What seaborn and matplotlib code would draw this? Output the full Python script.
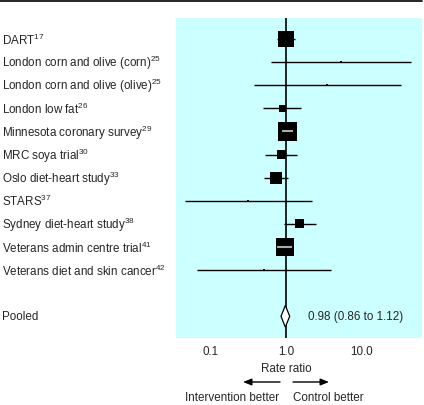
import numpy as np
import pandas as pd
import matplotlib.pyplot as plt
from matplotlib.lines import Line2D
import seaborn as sns

# study data
studies = ["DART", "London corn and olive (corn)", "London corn and olive (olive)",
           "London low fat", "Minnesota coronary survey", "MRC soya trial",
           "Oslo diet-heart study", "STARS", "Sydney diet-heart study",
           "Veterans admin centre trial", "Veterans diet and skin cancer"]
refs = ["17", "25", "25", "26", "29", "30", "33", "37", "38", "41", "42"]
rate_ratio = [1.00, 5.3, 3.45, 0.89, 1.04, 0.87, 0.74, 0.32, 1.53, 0.97, 0.51]
ci_low = [0.75, 0.64, 0.38, 0.50, 0.89, 0.53, 0.52, 0.047, 0.94, 0.75, 0.068]
ci_high = [1.31, 45.0, 33.0, 1.56, 1.24, 1.41, 1.05, 2.2, 2.46, 1.19, 3.9]
weights = [19.5, 0.3, 0.3, 3.7, 27.5, 6.2, 11.0, 0.3, 6.2, 24.7, 0.3]

pooled_rr = 0.98
pooled_low = 0.86
pooled_high = 1.12

tick_vals = [0.1, 1.0, 10.0]
tick_labels = ["0.1", "1.0", "10.0"]

sns.set_style("white")
plt.rcParams["font.family"] = ["Liberation Sans", "DejaVu Sans"]
plt.rcParams["mathtext.default"] = "regular"
FS = 8.4

W, H = 424, 406
fig = plt.figure(figsize=(W / 100, H / 100), dpi=100)


def fx(px):
    return px / W


def fy(py):
    return 1 - py / H


# panel axes (pixel box 176..422 x 19..339)
ax = fig.add_axes([fx(176), fy(339), fx(422) - fx(176), fy(19) - fy(339)])
ax.set_facecolor("#ccffff")
for s in ax.spines.values():
    s.set_visible(False)

df = pd.DataFrame({"study": studies, "rr": rate_ratio, "lo": ci_low,
                   "hi": ci_high, "weight": weights,
                   "row": np.arange(len(studies))})
pooled_row = len(studies) + 1

ax.set_xscale("log")
ax.set_xlim(0.0354, 62.3)
ax.set_ylim(12.94, -0.91)

ax.axvline(1.0, color="black", lw=1.2, zorder=1)
ax.hlines(df["row"], df["lo"], df["hi"], color="black", lw=1.0, zorder=2)

max_side_pt = 19 * 0.72
sns.scatterplot(data=df, x="rr", y="row", size="weight",
                sizes=(0, max_side_pt ** 2), size_norm=(0, max(weights)),
                marker="s", color="black", linewidth=0, legend=False,
                ax=ax, zorder=3)

# CI drawn light inside boxes that cover it
fig.canvas.draw()
for _, r in df.iterrows():
    side_px = np.sqrt(r["weight"] / max(weights)) * 19
    cx = ax.transData.transform((r["rr"], r["row"]))[0]
    lx = ax.transData.transform((r["lo"], r["row"]))[0]
    hx = ax.transData.transform((r["hi"], r["row"]))[0]
    if lx > cx - side_px / 2 and hx < cx + side_px / 2:
        ax.hlines(r["row"], r["lo"], r["hi"], color="#aaaaaa", lw=1.5, zorder=4)

# pooled diamond
dh = 0.47
ax.fill([pooled_low, pooled_rr, pooled_high, pooled_rr],
        [pooled_row, pooled_row - dh, pooled_row, pooled_row + dh],
        facecolor="white", edgecolor="black", lw=0.9, zorder=5)
ax.annotate(f"{pooled_rr:.2f} ({pooled_low:.2f} to {pooled_high:.2f})",
            xy=(pooled_high, pooled_row), xytext=(13, 0),
            textcoords="offset points", va="center", ha="left", fontsize=FS)

ax.set_yticks([])
ax.set_xticks(tick_vals)
ax.set_xticklabels(tick_labels, fontsize=FS)
ax.xaxis.set_minor_locator(plt.NullLocator())
ax.tick_params(axis="x", length=0, pad=5)
ax.set_xlabel("")
ax.set_ylabel("")

# study labels on the left
blend = plt.matplotlib.transforms.blended_transform_factory(fig.transFigure, ax.transData)
for name, ref, row in zip(studies, refs, df["row"]):
    ax.text(fx(2), row, f"{name}$^{{{ref}}}$", transform=blend,
            ha="left", va="center", fontsize=FS)
ax.text(fx(2), pooled_row, "Pooled", transform=blend, ha="left",
        va="center", fontsize=FS)

# bottom annotations
fig.text(fx(286), fy(369), "Rate ratio", ha="center", va="center", fontsize=FS)
arrow_style = "-|>,head_length=5,head_width=2"
fig.add_artist(plt.matplotlib.patches.FancyArrowPatch(
    (fx(280), fy(383)), (fx(243), fy(383)), transform=fig.transFigure,
    arrowstyle=arrow_style, color="black", lw=1.0, shrinkA=0, shrinkB=0))
fig.add_artist(plt.matplotlib.patches.FancyArrowPatch(
    (fx(293), fy(383)), (fx(329), fy(383)), transform=fig.transFigure,
    arrowstyle=arrow_style, color="black", lw=1.0, shrinkA=0, shrinkB=0))
fig.text(fx(279), fy(398), "Intervention better", ha="right", va="center", fontsize=FS)
fig.text(fx(293), fy(398), "Control better", ha="left", va="center", fontsize=FS)

# top rule
fig.add_artist(Line2D([0, fx(422)], [fy(2), fy(2)], color="black", lw=1.2))

fig.savefig("out.png", dpi=100)
